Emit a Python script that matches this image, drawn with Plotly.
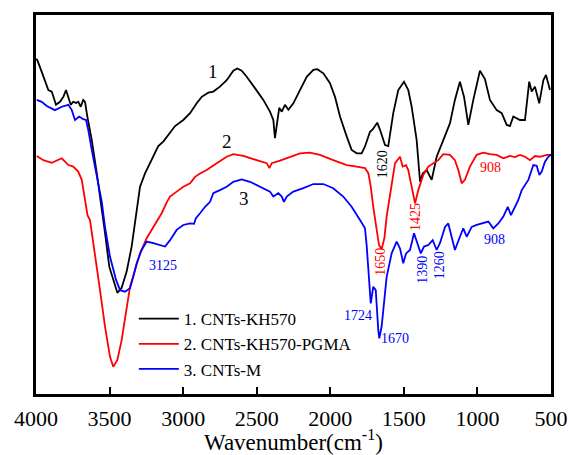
import plotly.graph_objects as go

# ---- data (wavenumber cm-1, transmittance in arbitrary %) ----
wn1 = [4000, 3991, 3961, 3916, 3893, 3864, 3837, 3814, 3796, 3780, 3764, 3747, 3728, 3713, 3696, 3679, 3667,
       3651, 3621, 3587, 3560, 3531, 3502, 3475, 3447, 3418, 3384, 3350, 3320, 3293, 3259, 3214, 3169, 3135,
       3089, 3055, 2999, 2953, 2908, 2874, 2829, 2795, 2750, 2704, 2659, 2632, 2602, 2568, 2512, 2455, 2410,
       2387, 2376, 2360, 2347, 2330, 2308, 2285, 2251, 2206, 2160, 2115, 2088, 2047, 2002, 1968, 1934, 1888,
       1855, 1820, 1787, 1764, 1730, 1712, 1681, 1662, 1628, 1606, 1572, 1538, 1499, 1470, 1447, 1413, 1390,
       1372, 1345, 1311, 1277, 1232, 1187, 1153, 1119, 1091, 1062, 1028, 983, 949, 915, 869, 835, 801, 779,
       756, 711, 677, 661, 648, 631, 609, 580, 552, 534, 507]
t1 = [88.4, 88.1, 85.0, 80.2, 79.8, 76.3, 77.1, 78.4, 80.2, 78.4, 76.3, 77.1, 76.8, 77.1, 75.8, 77.6, 77.1,
      73.2, 67.0, 58.3, 51.2, 42.5, 33.6, 30.1, 26.7, 28.0, 32.3, 38.9, 46.8, 54.7, 58.2, 61.7, 65.4, 66.6,
      68.8, 70.7, 72.3, 74.1, 76.7, 78.4, 79.5, 79.8, 81.1, 82.8, 85.3, 85.9, 85.3, 83.7, 80.7, 77.6, 74.5,
      72.3, 67.5, 72.3, 75.5, 74.5, 76.3, 75.0, 76.7, 80.2, 83.7, 85.5, 85.7, 84.6, 82.0, 78.4, 73.2, 67.9,
      64.4, 63.5, 63.5, 65.3, 69.2, 69.8, 71.6, 69.7, 65.7, 65.4, 74.1, 80.2, 82.4, 80.2, 75.8, 67.0, 56.0,
      58.2, 59.1, 56.5, 62.6, 67.0, 71.4, 77.6, 82.4, 78.4, 71.0, 77.6, 85.3, 83.1, 77.6, 74.9, 74.1, 71.0, 70.7,
      73.2, 72.3, 72.3, 78.4, 82.4, 79.8, 81.1, 76.7, 82.8, 84.2, 80.2]

wn2 = [3995, 3950, 3893, 3859, 3825, 3803, 3780, 3747, 3713, 3689, 3672, 3650, 3633, 3599, 3565, 3531, 3497,
       3475, 3447, 3418, 3384, 3361, 3327, 3293, 3248, 3203, 3146, 3110, 3089, 3044, 2999, 2953, 2919, 2885,
       2840, 2772, 2704, 2659, 2591, 2500, 2432, 2414, 2398, 2342, 2274, 2206, 2138, 2070, 1980, 1888, 1820,
       1764, 1741, 1725, 1708, 1685, 1669, 1651, 1632, 1617, 1583, 1560, 1526, 1508, 1485, 1470, 1447, 1424,
       1402, 1368, 1334, 1300, 1266, 1232, 1187, 1153, 1130, 1107, 1085, 1051, 1005, 960, 915, 869, 824, 779,
       745, 711, 677, 643, 609, 575, 529, 502]
t2 = [62.8, 61.7, 61.0, 61.6, 62.2, 61.3, 60.4, 60.0, 58.7, 56.5, 52.1, 47.2, 45.9, 37.1, 27.4, 17.8, 9.8,
      7.2, 9.0, 14.2, 22.2, 28.3, 32.7, 37.1, 41.1, 44.1, 47.7, 50.7, 52.1, 53.4, 54.7, 55.6, 57.3, 58.2,
      59.1, 60.9, 62.6, 63.3, 62.8, 61.7, 60.9, 59.6, 60.9, 61.6, 62.6, 63.5, 63.7, 63.1, 61.7, 60.4, 60.0,
      59.6, 58.2, 54.7, 49.4, 43.3, 39.3, 38.2, 41.2, 46.8, 54.7, 60.9, 62.6, 60.0, 60.4, 59.1, 54.7, 50.3,
      53.8, 57.8, 60.0, 60.9, 61.7, 63.3, 63.1, 61.7, 59.1, 55.6, 56.5, 60.0, 63.1, 63.7, 63.3, 63.1, 62.2, 62.8,
      62.5, 63.1, 62.6, 61.7, 62.8, 62.6, 63.1, 63.1]

wn3 = [3995, 3961, 3927, 3871, 3825, 3780, 3757, 3735, 3706, 3679, 3660, 3645, 3621, 3587, 3553, 3531, 3497,
       3456, 3429, 3395, 3361, 3339, 3316, 3282, 3248, 3203, 3157, 3123, 3089, 3044, 2999, 2953, 2926, 2913,
       2885, 2851, 2817, 2795, 2750, 2704, 2659, 2602, 2546, 2478, 2410, 2387, 2369, 2353, 2330, 2315, 2296,
       2251, 2183, 2115, 2047, 1980, 1912, 1855, 1798, 1764, 1753, 1742, 1725, 1708, 1691, 1674, 1667, 1651,
       1635, 1617, 1583, 1549, 1526, 1504, 1485, 1458, 1431, 1402, 1385, 1363, 1334, 1304, 1277, 1255, 1220,
       1198, 1175, 1153, 1119, 1096, 1073, 1039, 1005, 960, 926, 892, 858, 824, 794, 772, 745, 722, 699, 654,
       620, 597, 579, 563, 541, 518, 500]
t3 = [77.6, 77.1, 76.0, 74.9, 75.8, 76.3, 74.9, 72.3, 73.2, 72.5, 72.3, 69.7, 64.4, 57.3, 50.7, 44.1, 36.2,
      30.1, 27.4, 27.0, 27.9, 30.9, 34.5, 38.0, 40.2, 39.8, 39.3, 38.9, 40.6, 43.3, 44.6, 45.0, 44.9, 46.4,
      47.7, 49.4, 50.7, 53.0, 53.8, 54.7, 56.0, 56.6, 56.0, 54.7, 53.4, 52.1, 52.5, 53.0, 52.1, 50.7, 52.1,
      53.4, 54.3, 55.4, 55.4, 54.3, 52.1, 49.4, 45.9, 43.7, 39.3, 32.7, 23.9, 28.3, 27.4, 16.9, 14.7, 17.8,
      23.9, 30.9, 37.1, 40.2, 38.4, 34.5, 37.1, 38.0, 42.4, 39.3, 37.1, 38.9, 39.3, 40.6, 38.0, 39.8, 44.1,
      45.0, 41.5, 38.0, 41.5, 43.7, 41.5, 44.1, 44.6, 45.0, 45.5, 43.7, 45.0, 46.8, 49.4, 47.2, 49.4, 51.2, 53.8, 56.5,
      60.4, 60.2, 57.8, 58.7, 61.3, 62.6, 63.2]

names = ["1. CNTs-KH570", "2. CNTs-KH570-PGMA", "3. CNTs-M"]
colors = ["#000000", "#ff0000", "#0000ff"]

# annotations: (text, wavenumber, T, color, angle, size)
labels = [
    ("1", 2797, 85.0, "#000000", 0, 19),
    ("2", 2704, 66.6, "#000000", 0, 19),
    ("3", 2586, 51.7, "#000000", 0, 19),
    ("1620", 1640, 60.7, "#000000", -90, 14),
    ("1650", 1655, 34.9, "#ff0000", -90, 14),
    ("1425", 1424, 46.7, "#ff0000", -90, 14),
    ("908", 910, 59.7, "#ff0000", 0, 14),
    ("3125", 3135, 34.0, "#0000ff", 0, 14),
    ("1724", 1810, 20.8, "#0000ff", 0, 14),
    ("1670", 1560, 14.7, "#0000ff", 0, 14),
    ("1390", 1379, 32.7, "#0000ff", -90, 14),
    ("1260", 1261, 34.0, "#0000ff", -90, 14),
    ("908", 885, 40.8, "#0000ff", 0, 14),
]

FONT = "Liberation Serif, Times New Roman, serif"

fig = go.Figure()
for wn, t, nm, c in zip([wn1, wn2, wn3], [t1, t2, t3], names, colors):
    fig.add_trace(go.Scatter(x=wn, y=t, mode="lines", name=nm,
                             line=dict(color=c, width=1.8)))

for txt, x, y, c, ang, sz in labels:
    fig.add_annotation(x=x, y=y, text=txt, showarrow=False, textangle=ang,
                       font=dict(family=FONT, size=sz, color=c))

fig.update_layout(
    width=569, height=455,
    margin=dict(l=36, r=18, t=15, b=61),
    paper_bgcolor="white", plot_bgcolor="white",
    font=dict(family=FONT, color="black"),
    showlegend=True,
    legend=dict(x=0.19, y=0.245, xanchor="left", yanchor="top",
                bgcolor="rgba(0,0,0,0)", font=dict(family=FONT, size=17),
                tracegroupgap=0, itemwidth=40),
    xaxis=dict(range=[4000, 500], tick0=500, dtick=500, ticks="inside", ticklen=7, tickwidth=2,
               tickcolor="black", showline=True, linecolor="black", linewidth=2.5, mirror=True,
               showgrid=False, zeroline=False, tickfont=dict(family=FONT, size=22),
               automargin=False, ticklabelstandoff=3,
               title=dict(text="Wavenumber(cm<sup>-1</sup>)", font=dict(family=FONT, size=23), standoff=4)),
    yaxis=dict(range=[0, 100], showticklabels=False, ticks="", showline=True, linecolor="black",
               linewidth=2.5, mirror=True, showgrid=False, zeroline=False, automargin=False),
)

fig.write_html("out.html")
